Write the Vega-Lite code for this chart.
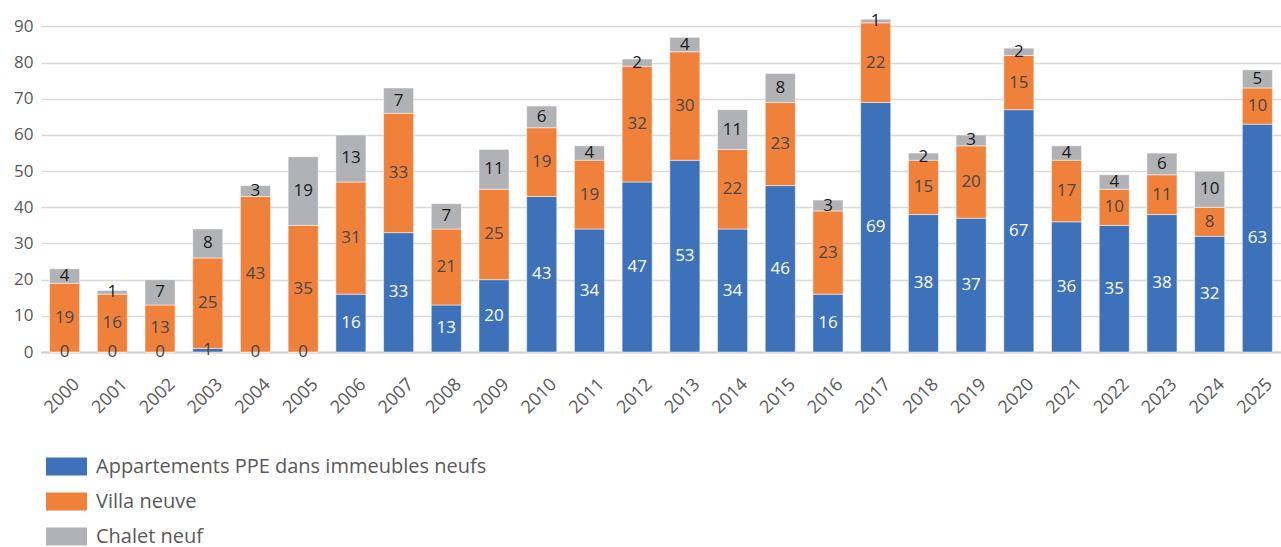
{
  "$schema": "https://vega.github.io/schema/vega-lite/v6.json",
  "width": 1240,
  "height": 340,
  "autosize": {"type": "none"},
  "padding": {"left": 41, "top": 12, "right": 0, "bottom": 195},
  "background": "white",
  "config": {
    "font": "Open Sans",
    "view": {"stroke": null},
    "axisY": {
      "values": [0, 10, 20, 30, 40, 50, 60, 70, 80, 90],
      "labelFontSize": 17,
      "labelColor": "#595959",
      "labelPadding": 8,
      "labelOverlap": false,
      "ticks": false,
      "domain": false,
      "gridColor": "#d9d9d9",
      "gridWidth": 1.5
    }
  },
  "data": {
    "values": [
      {"year": "2000", "Appartements PPE dans immeubles neufs": 0, "Villa neuve": 19, "Chalet neuf": 4},
      {"year": "2001", "Appartements PPE dans immeubles neufs": 0, "Villa neuve": 16, "Chalet neuf": 1},
      {"year": "2002", "Appartements PPE dans immeubles neufs": 0, "Villa neuve": 13, "Chalet neuf": 7},
      {"year": "2003", "Appartements PPE dans immeubles neufs": 1, "Villa neuve": 25, "Chalet neuf": 8},
      {"year": "2004", "Appartements PPE dans immeubles neufs": 0, "Villa neuve": 43, "Chalet neuf": 3},
      {"year": "2005", "Appartements PPE dans immeubles neufs": 0, "Villa neuve": 35, "Chalet neuf": 19},
      {"year": "2006", "Appartements PPE dans immeubles neufs": 16, "Villa neuve": 31, "Chalet neuf": 13},
      {"year": "2007", "Appartements PPE dans immeubles neufs": 33, "Villa neuve": 33, "Chalet neuf": 7},
      {"year": "2008", "Appartements PPE dans immeubles neufs": 13, "Villa neuve": 21, "Chalet neuf": 7},
      {"year": "2009", "Appartements PPE dans immeubles neufs": 20, "Villa neuve": 25, "Chalet neuf": 11},
      {"year": "2010", "Appartements PPE dans immeubles neufs": 43, "Villa neuve": 19, "Chalet neuf": 6},
      {"year": "2011", "Appartements PPE dans immeubles neufs": 34, "Villa neuve": 19, "Chalet neuf": 4},
      {"year": "2012", "Appartements PPE dans immeubles neufs": 47, "Villa neuve": 32, "Chalet neuf": 2},
      {"year": "2013", "Appartements PPE dans immeubles neufs": 53, "Villa neuve": 30, "Chalet neuf": 4},
      {"year": "2014", "Appartements PPE dans immeubles neufs": 34, "Villa neuve": 22, "Chalet neuf": 11},
      {"year": "2015", "Appartements PPE dans immeubles neufs": 46, "Villa neuve": 23, "Chalet neuf": 8},
      {"year": "2016", "Appartements PPE dans immeubles neufs": 16, "Villa neuve": 23, "Chalet neuf": 3},
      {"year": "2017", "Appartements PPE dans immeubles neufs": 69, "Villa neuve": 22, "Chalet neuf": 1},
      {"year": "2018", "Appartements PPE dans immeubles neufs": 38, "Villa neuve": 15, "Chalet neuf": 2},
      {"year": "2019", "Appartements PPE dans immeubles neufs": 37, "Villa neuve": 20, "Chalet neuf": 3},
      {"year": "2020", "Appartements PPE dans immeubles neufs": 67, "Villa neuve": 15, "Chalet neuf": 2},
      {"year": "2021", "Appartements PPE dans immeubles neufs": 36, "Villa neuve": 17, "Chalet neuf": 4},
      {"year": "2022", "Appartements PPE dans immeubles neufs": 35, "Villa neuve": 10, "Chalet neuf": 4},
      {"year": "2023", "Appartements PPE dans immeubles neufs": 38, "Villa neuve": 11, "Chalet neuf": 6},
      {"year": "2024", "Appartements PPE dans immeubles neufs": 32, "Villa neuve": 8, "Chalet neuf": 10},
      {"year": "2025", "Appartements PPE dans immeubles neufs": 63, "Villa neuve": 10, "Chalet neuf": 5}
    ]
  },
  "transform": [
    {"fold": ["Appartements PPE dans immeubles neufs", "Villa neuve", "Chalet neuf"], "as": ["key", "value"]},
    {"calculate": "indexof(['Appartements PPE dans immeubles neufs', 'Villa neuve', 'Chalet neuf'], datum.key)", "as": "order"},
    {"stack": "value", "groupby": ["year"], "sort": [{"field": "order", "order": "ascending"}], "as": ["y0", "y1"]},
    {"calculate": "(datum.y0 + datum.y1) / 2", "as": "mid"}
  ],
  "encoding": {
    "x": {
      "field": "year",
      "type": "ordinal",
      "title": null,
      "scale": {"paddingInner": 0.37, "paddingOuter": 0.18},
      "axis": {
        "labelAngle": -45,
        "labelFontSize": 18,
        "labelColor": "#595959",
        "labelPadding": 23,
        "labelOffset": 6,
        "ticks": false,
        "domainColor": "#d0d0d0",
        "domainWidth": 2,
        "grid": false
      }
    }
  },
  "layer": [
    {
      "mark": {"type": "bar", "stroke": "white", "strokeWidth": 0.5},
      "encoding": {
        "y": {
          "field": "y0",
          "type": "quantitative",
          "title": null,
          "scale": {"domain": [0, 94], "nice": false}
        },
        "y2": {"field": "y1"},
        "color": {
          "field": "key",
          "type": "nominal",
          "title": null,
          "scale": {
            "domain": ["Appartements PPE dans immeubles neufs", "Villa neuve", "Chalet neuf"],
            "range": ["#3d72bb", "#f0813a", "#b1b2b5"]
          },
          "legend": {
            "orient": "none",
            "legendX": 5,
            "legendY": 434,
            "direction": "vertical",
            "padding": 0,
            "symbolType": "M-1,-0.44H1V0.44H-1Z",
            "symbolSize": 1681,
            "symbolStrokeWidth": 0,
            "symbolOpacity": 1,
            "labelFontSize": 20,
            "labelColor": "#595959",
            "labelOffset": 9,
            "rowPadding": 4,
            "labelLimit": 600
          }
        }
      }
    },
    {
      "mark": {"type": "text", "fontSize": 17, "fontWeight": 500, "baseline": "middle", "align": "center"},
      "encoding": {
        "y": {"field": "mid", "type": "quantitative", "title": null},
        "text": {"field": "value", "type": "quantitative"},
        "color": {
          "condition": [
            {"test": "datum.key === 'Appartements PPE dans immeubles neufs' && datum.value > 2", "value": "white"},
            {"test": "datum.key === 'Chalet neuf'", "value": "#1a1a1a"}
          ],
          "value": "#474747"
        }
      }
    }
  ]
}
